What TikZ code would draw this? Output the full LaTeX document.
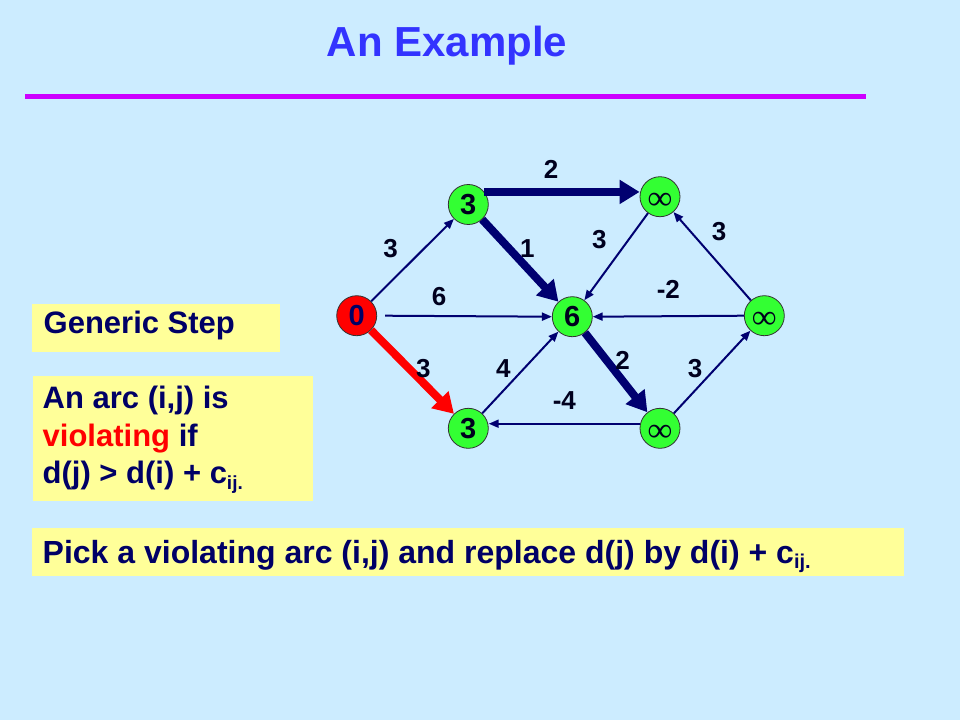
\documentclass[tikz,border=0pt]{standalone}
\usepackage{fontspec}
\setmainfont{Liberation Sans}
\newfontfamily\infont{Liberation Serif}
\usetikzlibrary{arrows.meta}
\definecolor{bg}{RGB}{204,236,255}
\definecolor{ttl}{RGB}{51,51,255}
\definecolor{mag}{RGB}{204,0,255}
\definecolor{ybox}{RGB}{255,255,153}
\definecolor{navy}{RGB}{0,0,102}
\definecolor{arr}{RGB}{0,0,112}
\definecolor{gnode}{RGB}{51,255,51}
\definecolor{rnode}{RGB}{255,0,0}
\definecolor{lbl}{RGB}{0,0,30}
\tikzset{
  yboxst/.style={fill=ybox, draw=none, inner sep=0pt, anchor=north west},
  btext/.style={anchor=base west, inner sep=0pt, text=navy, font=\fontsize{31}{37}\selectfont\bfseries},
  vert/.style={circle, minimum size=40pt, inner sep=0pt, draw=black!80, line width=0.8pt, fill=gnode, text=lbl, font=\fontsize{29}{29}\selectfont\bfseries},
  thinarc/.style={draw=arr, line width=2pt, -{Triangle[length=10pt,width=8pt]}},
  thickarc/.style={draw=arr, line width=8pt, -{Triangle[length=20pt,width=23pt]}},
  elabel/.style={inner sep=0pt, text=lbl, font=\fontsize{26}{26}\selectfont\bfseries},
  infnode/.style={vert, text depth=0pt, text height=0pt},
}
\newcommand{\inff}{\raisebox{-13pt}[0pt][0pt]{\infont\bfseries\fontsize{34}{34}\selectfont ∞}}
\begin{document}
\begin{tikzpicture}[x=1pt,y=-1pt]
\path[fill=bg] (0,0) rectangle (960,720);
\useasboundingbox (0,0) rectangle (960,720);

% title
\node[anchor=base, inner sep=0pt, text=ttl, font=\fontsize{42}{50}\selectfont\bfseries] (title) at (447,56.5) {An Example};
\draw[mag, line width=5pt] (25,96.5) -- (866,96.5);

% boxes
\node[yboxst, minimum width=248pt, minimum height=48pt] (gsbox) at (32,304) {};
\node[btext] (gstext) at (43.5,333.5) {Generic Step};

\node[yboxst, minimum width=280pt, minimum height=125pt] (arcbox) at (33,376) {};
\node[btext] (arc1) at (42.5,408) {An arc (i,j) is};
\node[btext] (arc2) at (42.5,446) {\textcolor{rnode}{violating} if};
\node[btext] (arc3) at (42.5,483) {d(j) > d(i) + c\raisebox{-6pt}{\fontsize{19}{19}\selectfont ij.}};

\node[yboxst, minimum width=872pt, minimum height=48pt] (pickbox) at (32,528) {};
\node[btext, font=\fontsize{32}{38}\selectfont\bfseries] (pick) at (42.5,563.3) {Pick a violating arc (i,j) and replace d(j) by d(i) + c\raisebox{-5pt}{\fontsize{20}{20}\selectfont ij.}};

% graph nodes
\node[vert, fill=rnode, text=navy] (z) at (356.7,315.7) {0};
\node[vert] (t3) at (468.3,204.5) {3};
\node[infnode] (tinf) at (660,196.7) {\inff};
\node[vert] (six) at (572.3,316.7) {6};
\node[infnode] (rinf) at (764.3,315.7) {\inff};
\node[vert] (b3) at (468.3,428.3) {3};
\node[infnode] (binf) at (660,428.3) {\inff};

% arcs
\draw[thinarc] (z) -- (t3);
\draw[thinarc] ([xshift=8pt]z.east) -- (six.west);
\draw[thickarc, draw=rnode] (z) -- (b3);
\draw[thickarc] (t3.38) -- (t3.38 -| tinf.west);
\draw[thickarc] (t3) -- (six);
\draw[thinarc] (tinf) -- (six);
\draw[thinarc] (rinf) -- (tinf);
\draw[thinarc] (rinf.west) -- (six.east);
\draw[thickarc] (six) -- (binf);
\draw[thinarc] (binf) -- (rinf);
\draw[thinarc] (binf.167) -- (binf.167 -| b3.east);
\draw[thinarc] (b3) -- (six);

% arc labels
\node[elabel] (l1) at (551,169) {2};
\node[elabel] (l2) at (390.7,248.3) {3};
\node[elabel] (l3) at (527.3,249) {1};
\node[elabel] (l4) at (599.3,240) {3};
\node[elabel] (l5) at (719,231.7) {3};
\node[elabel] (l6) at (439,296.7) {6};
\node[elabel] (l7) at (668.3,289.3) {-2};
\node[elabel] (l8) at (423.3,368.5) {3};
\node[elabel] (l9) at (503.3,368.5) {4};
\node[elabel] (l10) at (622.7,360) {2};
\node[elabel] (l11) at (695,368.3) {3};
\node[elabel] (l12) at (564.3,400.7) {-4};
\end{tikzpicture}
\end{document}
